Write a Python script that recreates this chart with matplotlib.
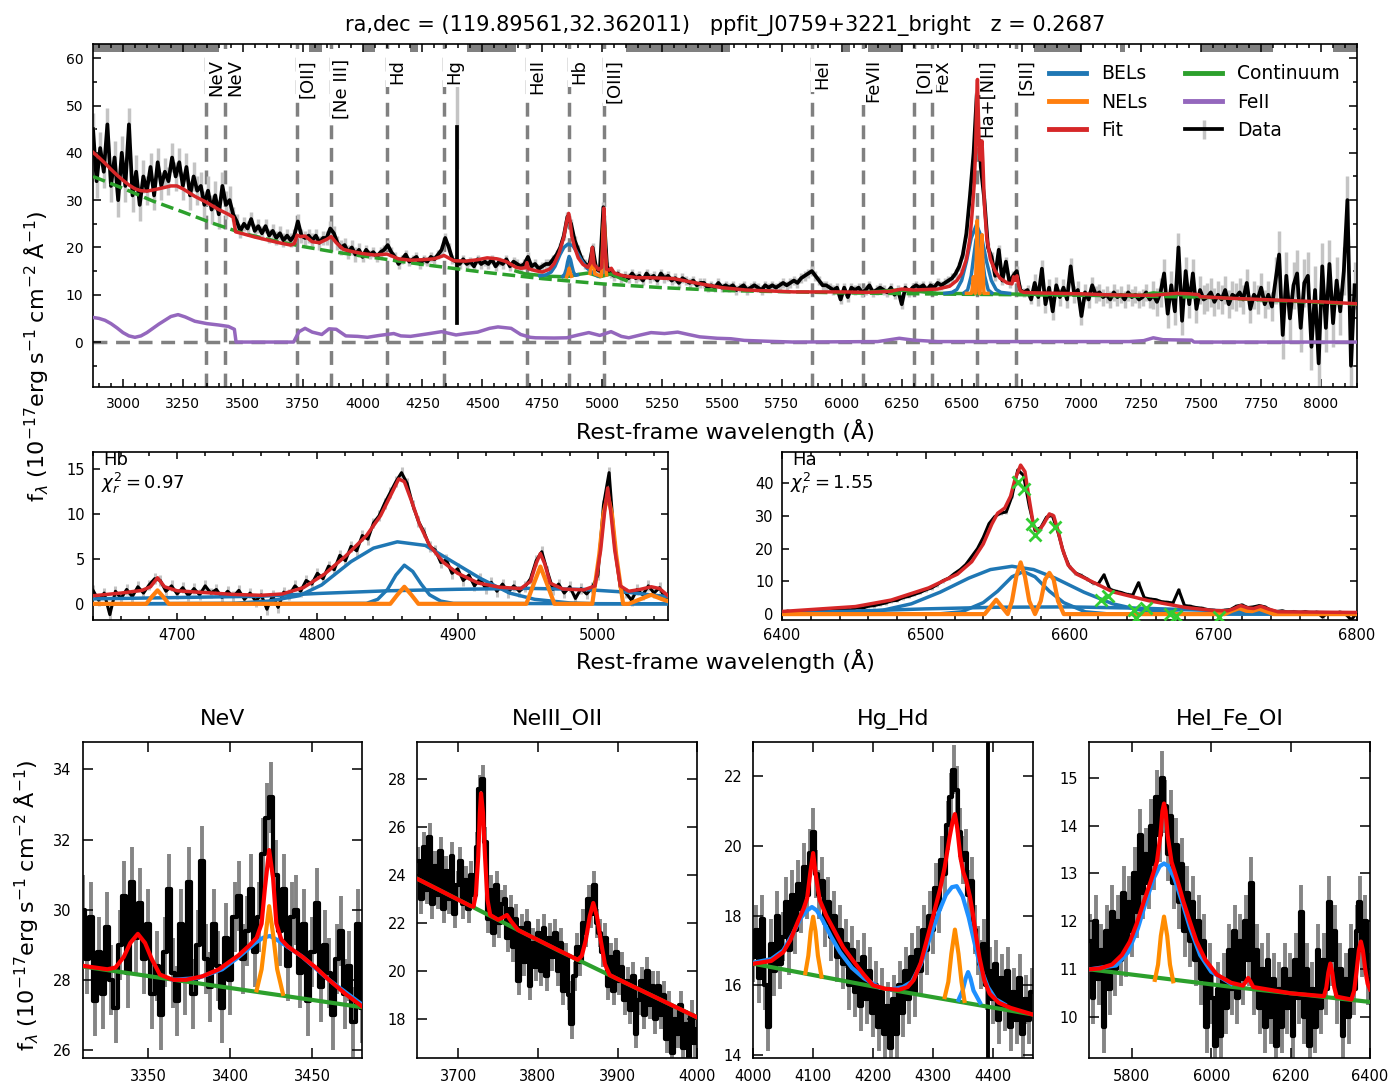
import numpy as np
import matplotlib
matplotlib.use("Agg")
import matplotlib.pyplot as plt
from matplotlib.ticker import MultipleLocator

plt.rcParams['font.family'] = ['DejaVu Sans']
plt.rcParams['mathtext.fontset'] = 'dejavusans'

W, H = 1390, 1086

title = "ra,dec = (119.89561,32.362011)   ppfit_J0759+3221_bright   z = 0.2687"
ylab = r"f$_\lambda$ ($\rm 10^{-17} erg\;s^{-1}\;cm^{-2}\;\AA^{-1}$)"
xlab = "Rest-frame wavelength (Å)"

# emission lines marked on the full spectrum
line_wl = [3346, 3426, 3727, 3869, 4102, 4340, 4686, 4861, 5007, 5876, 6087, 6300, 6375, 6563, 6725]
line_name = ['NeV', 'NeV', '[OII]', '[Ne III]', 'Hd', 'Hg', 'HeII', 'Hb', '[OIII]',
             'HeI', 'FeVII', '[OI]', 'FeX', 'Ha+[NII]', '[SII]']

# continuum fitting windows (grey strip on top)
conti_windows = [(2875, 3400), (3775, 3832), (4000, 4050), (4200, 4230), (4435, 4640),
                 (5100, 5535), (6005, 6035), (6110, 6250), (6800, 7000), (7160, 7180),
                 (7500, 7800), (8050, 8150)]

# ---------------- full spectrum (top) ----------------
top_start, top_step = 2875, 15
top_flux = [
    45, 34, 41, 36, 46, 33, 39, 30, 40, 33,
    46, 31, 36, 29, 35, 32, 37, 31, 38, 33,
    36, 34, 39, 35, 38, 33, 37, 31, 35, 32,
    33, 29, 32, 28, 31, 27, 33, 29, 30, 27,
    25.5, 23.5, 25, 24, 26, 23.5, 24.5, 23, 24.5, 22.5,
    23.5, 22, 23, 21.5, 22.5, 21.5, 22.5, 25.5, 22.5, 22,
    22.5, 21.5, 22.5, 21, 22, 22, 24, 23, 21, 20,
    20.5, 19, 20, 18.5, 19.5, 18, 19.5, 18.5, 19, 18,
    19, 19.5, 20.5, 19, 18, 16.5, 17.5, 18.5, 17, 17.5,
    18, 16.5, 17.5, 17, 18, 17.5, 18.5, 19.5, 22, 20,
    17.5, 17, 16.5, 17.5, 16.5, 17, 16, 17.5, 16.5, 17,
    16.5, 17.5, 16, 17, 16.5, 17.5, 16, 17, 16.5, 16,
    16.5, 18, 16, 16.5, 15.5, 16, 16.5, 16.5, 17.5, 18.5,
    20, 22.5, 26.5, 25, 21.5, 19.5, 17.5, 16.5, 16, 20,
    15.5, 15, 28.5, 16, 14.5, 14, 14.5, 13.5, 14, 13.5,
    14.5, 13.5, 14, 13, 14.5, 13.5, 14, 13, 14.5, 13.5,
    14, 13, 13.5, 12.5, 13.5, 13, 12.5, 13, 12, 12.5,
    12.5, 11.5, 12, 11.5, 12.5, 11.5, 12, 11.5, 12, 11,
    11.5, 12, 11, 11.5, 12, 11.5, 11, 12, 11.5, 12,
    11.5, 12, 12.5, 12, 12.5, 13, 12.5, 13.5, 14, 14.5,
    15, 14, 13, 12, 12, 11.5, 11, 11.5, 9, 11.5,
    9.5, 11.5, 11, 11.5, 10.5, 11, 12, 10.5, 11, 11.5,
    11, 10.5, 11.5, 10, 11, 8, 11.5, 10.5, 11.5, 12,
    11.5, 12, 11, 12, 11.5, 12.5, 12, 12.5, 13, 13.5,
    14.5, 16, 18.5, 23, 31, 40, 54, 37, 30, 20,
    18, 14, 19.5, 13, 17, 12.5, 14, 15, 11, 10.5,
    11, 9, 12.5, 9.5, 15.5, 8, 11.5, 6.5, 12, 9.5,
    11.5, 9, 16, 10, 11, 5.5, 10.5, 9, 12, 10,
    10.5, 9.5, 10, 9, 10.5, 9.5, 10, 9, 10.5, 9.5,
    10, 9, 9.5, 10.5, 9, 10, 8.5, 10.5, 14.5, 6,
    12, 6.5, 20, 4.5, 15, 8, 14.5, 7, 11, 9,
    9.5, 10.5, 8.5, 10, 9, 11, 8, 10, 9.5, 10.5,
    9, 12.5, 7, 10, 9, 11.5, 8, 10, 7.5, 13,
    18.5, 1.5, 14, 5, 12, 14.5, 3, 12.5, 14, -1,
    11, -4.5, 16, 3, 16.5, 4, 13, 6.5, 15, 30,
    -5, 12,
]
top_err_edges = [2875, 3100, 3450, 4000, 5600, 6800, 7300, 7800]
top_err_vals = [3.5, 3.0, 1.5, 1.0, 1.0, 1.8, 3.0, 5.0]
spike_wl = [4392, 4392]
spike_flux = [45.5, 4.0]

fit_top = [(2875, 40.1), (2900, 39.0), (2925, 37.8), (2950, 36.5), (2975, 35.3), (3000, 34.2),
           (3025, 33.2), (3050, 32.4), (3075, 32.0), (3100, 31.9), (3150, 32.4), (3200, 33.0),
           (3225, 33.0), (3250, 32.4), (3300, 30.8), (3350, 29.5), (3400, 28.0), (3440, 27.0),
           (3460, 26.4), (3470, 23.3), (3500, 22.9), (3550, 22.2), (3600, 21.6), (3650, 21.0),
           (3700, 20.5), (3715, 20.8), (3727, 22.6), (3740, 22.3), (3760, 22.4), (3790, 21.2),
           (3820, 21.0), (3850, 21.7), (3869, 22.3), (3890, 21.0), (3920, 19.6), (3950, 19.2),
           (4000, 18.7), (4050, 18.4), (4102, 18.6), (4150, 17.6), (4200, 17.3), (4250, 17.4),
           (4300, 17.6), (4340, 18.3), (4380, 17.2), (4430, 17.1), (4480, 17.4), (4520, 17.8),
           (4560, 17.6), (4600, 17.0), (4620, 16.4), (4640, 15.8), (4660, 15.6), (4680, 15.7),
           (4686, 16.8), (4692, 15.5), (4720, 15.1), (4750, 14.8), (4780, 15.4), (4800, 16.6),
           (4820, 18.8), (4840, 22.2), (4852, 25.6), (4860, 27.2), (4866, 25.6), (4873, 22.4),
           (4885, 20.0), (4900, 17.8), (4920, 16.4), (4940, 15.8), (4952, 16.8), (4959, 20.0),
           (4966, 16.4), (4985, 15.3), (4998, 15.8), (5002, 19.5), (5007, 28.3), (5012, 20.0),
           (5018, 15.4), (5030, 15.2), (5038, 15.6), (5050, 14.6), (5080, 14.1), (5100, 13.9),
           (5150, 13.6), (5200, 13.6), (5300, 13.4), (5400, 12.4), (5500, 11.5), (5600, 11.0),
           (5700, 10.8), (5800, 10.6), (5900, 10.6), (6000, 10.6), (6100, 10.5), (6200, 10.7),
           (6250, 11.2), (6300, 11.0), (6400, 11.2), (6450, 11.8), (6480, 13.0), (6500, 14.5),
           (6520, 17.5), (6535, 22.0), (6545, 28.0), (6552, 33.0), (6558, 40.0), (6563, 52.0),
           (6566, 55.5), (6570, 48.0), (6574, 40.0), (6578, 38.5), (6582, 41.5), (6585, 42.5),
           (6589, 38.0), (6595, 29.0), (6605, 22.0), (6620, 17.5), (6640, 15.0), (6660, 13.5),
           (6690, 12.5), (6710, 12.3), (6717, 13.8), (6722, 13.0), (6731, 14.0), (6738, 12.0),
           (6745, 10.8), (6760, 10.5), (6800, 10.4), (6900, 10.3), (7000, 10.2), (7100, 10.0),
           (7200, 9.9), (7300, 9.9), (7350, 10.1), (7400, 10.3), (7450, 10.2), (7490, 10.0),
           (7495, 9.6), (7600, 9.3), (7800, 8.9), (8000, 8.5), (8150, 8.1)]
pl_conti = [(2875, 35.0), (3000, 32.5), (3125, 29.8), (3250, 27.5), (3375, 25.1), (3500, 23.0),
            (3625, 21.5), (3750, 20.2), (3875, 19.1), (4000, 18.2), (4250, 16.4), (4500, 14.8),
            (4750, 13.4), (5000, 12.3), (5250, 11.5), (5500, 10.9), (6000, 10.4), (6500, 10.1),
            (7000, 9.9), (7500, 9.5), (8150, 8.0)]
feii = [(2875, 5.2), (2900, 5.0), (2925, 4.6), (2950, 3.9), (2975, 3.0), (3000, 2.0), (3025, 1.3),
        (3050, 1.0), (3075, 1.3), (3100, 2.0), (3150, 3.8), (3200, 5.4), (3230, 5.8), (3260, 5.3),
        (3300, 4.4), (3350, 3.9), (3400, 3.6), (3440, 3.3), (3465, 2.7), (3472, 0.0), (3712, 0.0),
        (3735, 2.2), (3760, 2.9), (3790, 2.1), (3830, 1.6), (3860, 2.8), (3890, 2.7), (3930, 1.3),
        (3980, 1.2), (4020, 1.0), (4070, 1.4), (4130, 1.8), (4160, 1.3), (4200, 1.2), (4240, 1.5),
        (4280, 1.8), (4330, 2.2), (4390, 1.5), (4430, 1.8), (4480, 2.1), (4530, 2.9), (4565, 3.2),
        (4620, 2.9), (4660, 1.6), (4700, 1.0), (4722, 0.9), (4800, 0.85), (4852, 0.9), (4900, 1.5),
        (4944, 2.0), (4990, 1.4), (5037, 2.2), (5080, 1.2), (5111, 0.9), (5160, 1.5), (5204, 2.0),
        (5260, 1.8), (5315, 2.1), (5360, 1.6), (5407, 1.1), (5480, 0.8), (5537, 0.7), (5593, 0.35),
        (5700, 0.15), (5800, 0.0), (6150, 0.1), (6240, 0.8), (6300, 0.4), (6400, 0.1), (7200, 0.1),
        (7260, 0.3), (7300, 0.9), (7340, 0.5), (7460, 0.4), (7470, 0.0), (8150, 0.0)]
local_conti_hb = [(4640, 15.0), (4680, 14.4), (4722, 14.2), (4780, 13.9), (4852, 13.8), (4900, 14.3),
                  (4944, 14.6), (4990, 13.8), (5037, 14.4), (5080, 13.4), (5100, 13.0)]
local_conti_ha = [(6100, 10.5), (6240, 11.0), (6300, 10.8), (6400, 10.3), (6600, 10.2), (6800, 10.1),
                  (7000, 10.0), (7260, 9.9), (7300, 10.4), (7340, 10.2), (7460, 9.9), (7490, 9.6)]
bel_top = [
    [(4740, 14.0), (4765, 14.2), (4787, 14.8), (4803, 16.0), (4824, 18.5), (4840, 20.0), (4857, 20.7),
     (4877, 20.4), (4892, 19.2), (4916, 17.1), (4937, 15.6), (4955, 14.9), (4980, 14.0)],
    [(4835, 13.9), (4843, 14.3), (4850, 15.4), (4856, 17.0), (4862, 18.1), (4868, 17.4), (4874, 16.0),
     (4880, 14.8), (4888, 14.1), (4897, 14.2)],
    [(6430, 10.3), (6460, 10.5), (6480, 11.1), (6500, 13.0), (6520, 17.0), (6540, 22.0), (6562, 24.8),
     (6584, 22.0), (6604, 17.0), (6624, 13.0), (6644, 11.1), (6664, 10.5), (6700, 10.3)],
    [(6510, 10.4), (6525, 11.0), (6540, 14.0), (6550, 17.9), (6560, 21.6), (6568, 22.8), (6576, 21.6),
     (6586, 17.9), (6596, 14.0), (6611, 11.0), (6626, 10.4)],
]
nel_top = [
    [(4852, 13.8), (4857, 14.6), (4862, 15.6), (4867, 14.6), (4872, 13.9)],
    [(4949, 14.5), (4954, 16.5), (4959, 18.6), (4964, 16.5), (4969, 14.4), (4996, 13.9), (5001, 19.4),
     (5004, 24.0), (5007, 26.0), (5010, 24.0), (5013, 19.4), (5018, 14.2)],
    [(6520, 10.3), (6541, 10.3), (6545, 11.6), (6549, 13.8), (6553, 11.6), (6557, 10.3), (6561, 17.6),
     (6565, 25.7), (6569, 17.6), (6573, 10.3), (6577, 10.3), (6581, 16.0), (6585, 22.7), (6589, 16.0),
     (6593, 10.3), (6610, 10.3)],
]

# ---------------- Hb complex ----------------
hb_start, hb_step = 4640, 4
hb_flux = [1.5, 0.4, 1.2, -1.2, 1.4, 0.6, 1.6, 0.8, 1.9, 1.2,
           2.1, 2.8, 2.6, 1.4, 2.0, 1.1, 1.8, 0.9, 1.7, 1.0,
           2.0, 1.2, 1.6, 0.7, 1.4, 0.8, 1.5, 0.5, 1.2, 0.3,
           1.0, -0.6, 0.9, -0.4, 1.3, 1.0, 2.0, 1.4, 2.6, 2.2,
           3.4, 2.8, 4.2, 3.8, 5.4, 4.8, 6.4, 5.9, 7.6, 7.2,
           9.0, 9.8, 11.2, 12.4, 13.6, 14.6, 13.4, 11.0, 9.2, 8.0,
           6.4, 6.0, 4.6, 4.9, 3.4, 3.9, 2.6, 3.2, 2.0, 2.8,
           1.7, 2.4, 1.4, 2.2, 1.3, 2.0, 1.4, 1.9, 2.8, 4.8,
           5.8, 3.6, 1.6, 2.2, 1.2, 1.9, 0.6, 1.7, 1.1, 1.8,
           3.2, 11.0, 14.6, 6.4, 1.8, 1.2, 0.4, 1.6, 1.0, 2.0,
           1.2, 1.8, 0.6]
hb_err = 0.6
hb_fit = [(4640, 0.9), (4660, 1.2), (4675, 1.5), (4681, 1.9), (4686, 2.9), (4691, 1.9), (4700, 1.45),
          (4720, 1.25), (4740, 1.05), (4760, 0.95), (4775, 1.1), (4790, 1.8), (4805, 3.3), (4820, 5.3),
          (4835, 7.6), (4845, 9.8), (4852, 12.0), (4858, 13.9), (4862, 13.6), (4867, 11.5), (4873, 8.8),
          (4880, 6.5), (4890, 4.6), (4900, 3.4), (4915, 2.3), (4930, 1.85), (4945, 1.7), (4952, 2.5),
          (4956, 4.5), (4959, 5.6), (4962, 4.5), (4966, 2.3), (4975, 1.65), (4990, 1.55), (4998, 2.0),
          (5002, 6.0), (5005, 10.5), (5007, 12.9), (5009, 10.5), (5012, 6.0), (5016, 2.0), (5022, 1.4),
          (5030, 1.6), (5038, 1.9), (5044, 1.7), (5050, 0.9)]
hb_bel = [
    [(4640, 0.0), (4740, 0.05), (4765, 0.3), (4787, 0.9), (4803, 2.1), (4824, 4.7), (4840, 6.2),
     (4857, 6.9), (4877, 6.5), (4892, 5.1), (4916, 2.85), (4937, 1.2), (4955, 0.5), (4980, 0.1),
     (5000, 0.0), (5050, 0.0)],
    [(4640, 0.0), (4835, 0.05), (4843, 0.5), (4850, 1.6), (4856, 3.2), (4862, 4.3), (4868, 3.6),
     (4874, 2.2), (4880, 1.0), (4888, 0.3), (4897, 0.05), (5050, 0.0)],
    [(4640, 0.55), (4700, 0.7), (4760, 0.85), (4800, 1.15), (4850, 1.45), (4900, 1.62), (4950, 1.72),
     (4990, 1.6), (5020, 1.3), (5050, 0.8)],
]
hb_nel = [(4640, 0.0), (4678, 0.0), (4682, 0.8), (4686, 1.5), (4690, 0.8), (4694, 0.0), (4852, 0.0),
          (4857, 1.0), (4862, 1.9), (4867, 1.0), (4872, 0.0), (4949, 0.0), (4954, 2.1), (4959, 4.15),
          (4964, 2.1), (4969, 0.0), (4996, 0.0), (5001, 5.5), (5004, 10.0), (5007, 12.1), (5010, 10.0),
          (5013, 5.5), (5018, 0.0), (5022, 0.0), (5030, 0.5), (5038, 1.0), (5046, 0.5), (5050, 0.3)]

# ---------------- Ha complex ----------------
ha_start, ha_step = 6400, 4
ha_flux = [0.6, 0.9, 0.4, 1.0, 0.6, 1.1, 0.7, 1.2, 0.9, 1.3,
           1.1, 1.5, 1.3, 1.9, 1.8, 2.4, 2.6, 3.0, 3.4, 4.0,
           4.2, 5.0, 5.4, 6.0, 6.6, 7.4, 8.0, 9.0, 10.2, 11.0,
           12.4, 13.6, 15.2, 17.6, 20.0, 23.4, 27.6, 29.8, 30.8, 31.2,
           36.0, 44.0, 42.4, 33.0, 25.6, 26.4, 29.6, 30.2, 25.0, 18.6,
           14.4, 12.6, 11.8, 10.8, 9.6, 9.2, 12.0, 7.6, 7.0, 6.6,
           6.0, 5.8, 9.6, 5.0, 4.6, 4.4, 3.8, 3.6, 3.4, 7.4,
           2.6, 2.4, 2.0, 1.8, 1.4, 1.2, 1.0, 1.2, 1.4, 2.4,
           2.8, 2.0, 2.2, 2.6, 2.2, 1.2, 0.8, 1.0, 0.6, 0.8,
           0.4, 0.8, 0.3, 0.6, -0.9, 0.5, 0.2, 0.6, 0.1, -1.8,
           0.5]
ha_err = 0.6
ha_fit = [(6400, 0.8), (6451, 2.3), (6476, 4.3), (6502, 8.0), (6522, 12.2), (6532, 16.0), (6540, 21.4),
          (6546, 27.5), (6550, 30.8), (6555, 32.4), (6559, 36.0), (6562, 41.0), (6566, 45.5), (6569, 43.5),
          (6572, 35.0), (6575, 27.0), (6578, 25.0), (6582, 27.5), (6586, 30.6), (6589, 30.0), (6592, 25.5),
          (6595, 20.0), (6599, 15.0), (6605, 12.2), (6612, 10.7), (6630, 6.8), (6655, 4.1), (6681, 2.0),
          (6700, 1.1), (6710, 1.0), (6714, 1.6), (6719, 2.6), (6724, 1.9), (6728, 1.7), (6733, 2.4),
          (6738, 1.6), (6745, 0.7), (6800, 0.5)]
ha_bel = [
    [(6400, 0.0), (6440, 0.16), (6470, 1.17), (6490, 3.15), (6510, 6.7), (6530, 11.0), (6545, 13.6),
     (6560, 14.6), (6575, 13.6), (6590, 11.0), (6610, 6.7), (6630, 3.15), (6650, 1.17), (6680, 0.16),
     (6720, 0.0), (6800, 0.0)],
    [(6400, 0.0), (6510, 0.1), (6525, 0.7), (6540, 3.5), (6550, 7.0), (6560, 11.4), (6568, 13.0),
     (6576, 11.4), (6586, 7.0), (6596, 3.5), (6611, 0.7), (6626, 0.1), (6800, 0.0)],
    [(6400, 0.3), (6450, 0.9), (6500, 1.6), (6550, 2.1), (6600, 2.2), (6650, 1.8), (6700, 1.1),
     (6750, 0.6), (6800, 0.3)],
]
ha_nel = [(6400, 0.0), (6541, 0.0), (6545, 2.2), (6549, 4.4), (6553, 2.2), (6557, 0.0), (6560, 4.0),
          (6563, 11.5), (6566, 15.8), (6569, 11.5), (6572, 4.0), (6576, 0.0), (6580, 4.0), (6583, 10.5),
          (6586, 12.6), (6589, 10.5), (6592, 4.0), (6596, 0.0), (6708, 0.0), (6713, 1.0), (6718, 1.8),
          (6723, 1.0), (6727, 0.9), (6732, 1.6), (6737, 0.8), (6742, 0.0), (6800, 0.0)]
ha_masked = [(6564, 40.3), (6568, 38.3), (6574, 27.6), (6576, 24.2), (6590, 26.5), (6622, 4.4),
             (6627, 5.4), (6645, 1.3), (6646, -1.3), (6653, 2.0), (6670, 0.0), (6674, -0.5), (6704, -1.0)]

# ---------------- small windows (bottom row) ----------------
nev_start, nev_step = 3310, 2.5
nev_flux = [30.0, 28.6, 29.8, 27.4, 28.8, 27.6, 29.5, 28.0, 27.2, 29.0,
            30.4, 28.2, 30.8, 29.2, 30.2, 28.6, 29.6, 27.6, 28.4, 27.0,
            28.8, 30.6, 28.2, 27.4, 29.6, 28.0, 30.8, 27.6, 29.0, 31.4,
            28.6, 27.8, 29.6, 28.4, 27.2, 29.2, 28.0, 29.8, 30.4, 28.6,
            29.4, 30.6, 28.8, 29.8, 31.6, 32.6, 33.2, 31.0, 29.4, 30.6,
            28.4, 29.8, 30.0, 28.2, 29.6, 27.4, 28.8, 30.2, 27.8, 29.0,
            28.2, 27.0, 28.6, 29.4, 27.6, 28.4, 26.8, 29.6, 27.2]
nev_err = 1.0
nev_conti = [(3310, 28.38), (3480, 27.22)]
nev_fit = [(3310, 28.4), (3325, 28.3), (3330, 28.35), (3335, 28.65), (3339, 29.05), (3343.6, 29.31),
           (3348, 29.05), (3352, 28.6), (3357, 28.15), (3365, 28.0), (3373, 28.0), (3383, 28.1),
           (3393, 28.3), (3405, 28.7), (3412, 29.0), (3416, 29.2), (3419, 29.6), (3421, 30.6),
           (3423.6, 31.7), (3426, 30.9), (3428, 29.6), (3431, 29.15), (3435, 28.95), (3444, 28.65),
           (3452, 28.35), (3460, 28.0), (3470, 27.6), (3480, 27.25)]
nev_bel = [(3365, 28.0), (3380, 28.05), (3395, 28.3), (3405, 28.65), (3415, 29.05), (3420, 29.2),
           (3424, 29.25), (3428, 29.15), (3433, 29.0), (3444, 28.65), (3460, 28.0), (3480, 27.3)]
nev_nel = [(3416, 27.7), (3419, 28.3), (3421.5, 29.3), (3423.6, 30.1), (3426, 29.3), (3428.5, 28.3),
           (3432, 27.6)]

ne3_start, ne3_step = 3650, 3.5
ne3_flux = [24.6, 23.0, 25.2, 23.4, 25.6, 22.8, 24.4, 23.2, 25.0, 22.6,
            24.2, 23.0, 24.8, 22.4, 23.6, 24.6, 22.8, 23.8, 22.6, 24.0,
            23.2, 25.2, 27.6, 28.0, 25.4, 22.2, 23.4, 21.6, 23.6, 22.0,
            22.8, 23.0, 21.4, 22.6, 21.0, 22.2, 19.6, 21.8, 20.4, 22.0,
            19.4, 21.2, 20.2, 21.6, 20.0, 21.8, 19.8, 21.4, 20.6, 21.6,
            20.0, 21.2, 19.2, 20.6, 19.0, 17.8, 19.8, 21.0, 20.4, 22.0,
            21.6, 23.0, 22.4, 23.6, 22.0, 21.6, 20.8, 21.4, 19.4, 20.6,
            19.2, 20.8, 19.6, 20.2, 18.8, 19.6, 18.4, 19.8, 17.4, 18.8,
            19.6, 18.2, 20.0, 18.6, 19.4, 18.0, 19.4, 18.2, 19.0, 17.2,
            18.6, 16.6, 18.0, 17.4, 18.6, 16.8, 17.8, 16.4, 18.2, 17.0,
            17.6]
ne3_err = 0.6
ne3_conti = [(3650, 23.83), (3825, 20.88), (4000, 18.08)]
ne3_fit = [(3650, 23.83), (3715, 22.73), (3719, 22.70), (3722, 23.2), (3725, 24.8), (3727, 26.6),
           (3728.5, 27.42), (3731, 26.6), (3733.5, 24.8), (3736.5, 23.0), (3740, 22.35), (3750, 22.15),
           (3756, 22.25), (3761, 22.35), (3766, 22.1), (3775, 21.72), (3850, 20.48), (3855, 20.65),
           (3860, 21.3), (3865, 22.3), (3869.4, 22.85), (3874, 22.3), (3879, 21.25), (3884, 20.3),
           (3890, 19.85), (3900, 19.68), (4000, 18.08)]

hghd_start, hghd_step = 4000, 5
hghd_flux = [16.8, 17.6, 16.2, 17.9, 16.0, 14.8, 17.2, 16.4, 18.0, 16.6,
             17.4, 18.4, 17.0, 18.6, 17.6, 18.9, 18.2, 19.4, 18.6, 19.8,
             20.4, 19.2, 18.6, 19.0, 17.8, 18.4, 17.4, 18.0, 16.8, 17.6,
             16.6, 17.2, 16.0, 17.0, 15.8, 16.6, 15.4, 16.8, 15.6, 16.4,
             15.2, 16.0, 14.8, 15.8, 14.6, 15.4, 14.2, 15.6, 14.6, 16.0,
             15.2, 16.4, 15.6, 16.8, 15.8, 17.0, 16.4, 17.6, 17.0, 18.0,
             17.6, 18.8, 18.2, 19.6, 19.2, 20.6, 21.4, 22.2, 21.6, 20.4,
             19.6, 19.8, 18.6, 19.0, 17.6, 17.0, 16.6, 17.2, 16.0, 16.4,
             15.6, 16.6, 15.0, 16.2, 15.4, 16.4, 14.8, 15.8, 15.0, 16.2,
             14.6, 15.6, 15.0, 15.8]
hghd_err = 0.7
hghd_conti = [(4000, 16.62), (4233, 15.86), (4467, 15.16)]
hghd_fit = [(4000, 16.62), (4030, 16.7), (4050, 16.95), (4062, 17.3), (4075, 17.85), (4084, 18.2),
            (4090, 18.5), (4095, 19.2), (4100, 19.8), (4105, 19.1), (4111, 18.45), (4122, 18.0),
            (4133, 17.65), (4150, 17.1), (4167, 16.7), (4185, 16.3), (4200, 16.0), (4220, 15.9),
            (4243, 15.87), (4258, 15.95), (4268, 16.15), (4280, 16.65), (4290, 17.3), (4300, 17.95),
            (4312, 18.75), (4320, 19.4), (4328, 20.25), (4333, 20.7), (4337, 20.92), (4341, 20.5),
            (4346, 19.7), (4351, 19.25), (4356, 19.0), (4362, 18.55), (4367, 18.05), (4372, 17.45),
            (4378, 16.8), (4386, 16.15), (4395, 15.76), (4410, 15.5), (4430, 15.35), (4467, 15.16)]
hghd_bel = [
    [(4000, 16.65), (4030, 16.75), (4050, 17.0), (4065, 17.45), (4080, 17.95), (4090, 18.15),
     (4098, 18.25), (4106, 18.15), (4115, 17.9), (4130, 17.4), (4145, 16.95), (4165, 16.5),
     (4185, 16.2), (4210, 15.95)],
    [(4230, 15.88), (4250, 15.95), (4265, 16.1), (4280, 16.6), (4295, 17.35), (4310, 18.1),
     (4322, 18.6), (4332, 18.82), (4340, 18.85), (4350, 18.55), (4360, 17.95), (4370, 17.2),
     (4380, 16.5), (4392, 15.95), (4405, 15.6), (4420, 15.45)],
    [(4343, 15.58), (4350, 15.85), (4355, 16.2), (4359, 16.38), (4363, 16.2), (4368, 15.85),
     (4379, 15.5)],
]
hghd_nel = [
    [(4087, 16.35), (4092, 16.85), (4096, 17.55), (4100, 17.97), (4104, 17.55), (4108, 16.85),
     (4114, 16.25)],
    [(4320, 15.66), (4326, 16.1), (4331, 16.9), (4337, 17.6), (4343, 16.9), (4348, 16.1),
     (4353, 15.55)],
]

hei_start, hei_step = 5695, 7
hei_flux = [11.6, 10.4, 12.0, 10.8, 11.4, 9.8, 11.8, 10.6, 12.2, 11.0,
            12.0, 11.2, 12.6, 11.4, 12.4, 11.8, 13.0, 12.2, 13.8, 12.6,
            13.4, 12.8, 14.0, 13.2, 14.6, 13.8, 15.0, 14.4, 13.4, 14.2,
            12.8, 13.6, 12.4, 13.2, 11.8, 12.6, 11.6, 12.4, 11.2, 12.0,
            10.8, 11.6, 9.8, 11.0, 10.4, 9.4, 10.6, 9.6, 10.8, 10.2,
            11.4, 10.6, 11.8, 10.4, 11.6, 10.8, 12.0, 11.2, 12.8, 10.6,
            11.4, 10.2, 11.0, 9.8, 11.2, 10.0, 10.8, 9.4, 10.6, 9.8,
            11.0, 10.2, 10.8, 9.6, 11.2, 10.4, 12.2, 10.0, 11.0, 9.4,
            10.6, 9.8, 11.4, 10.2, 11.2, 10.6, 12.4, 11.2, 11.8, 10.4,
            11.0, 9.6, 10.8, 10.0, 11.4, 10.6, 11.8, 12.4, 11.4, 12.0,
            10.8]
hei_err = 0.55
hei_conti = [(5693, 11.0), (6046, 10.64), (6400, 10.32)]
hei_fit = [(5693, 11.0), (5720, 11.02), (5750, 11.1), (5775, 11.3), (5795, 11.58), (5812, 11.95),
           (5830, 12.41), (5848, 12.85), (5863, 13.24), (5872, 13.8), (5877, 14.3), (5881, 14.46),
           (5885, 14.3), (5890, 13.8), (5900, 13.24), (5915, 12.85), (5930, 12.41), (5948, 11.95),
           (5963, 11.58), (5985, 11.2), (6014, 10.89), (6050, 10.72), (6080, 10.66), (6087, 10.74),
           (6093, 10.82), (6099, 10.74), (6106, 10.63), (6200, 10.5), (6284, 10.44), (6290, 10.62),
           (6295, 10.93), (6300, 11.12), (6305, 10.93), (6310, 10.62), (6316, 10.43), (6353, 10.37),
           (6360, 10.55), (6366, 10.95), (6372, 11.4), (6377, 11.58), (6382, 11.4), (6388, 11.0),
           (6394, 10.7), (6400, 10.58)]
hei_bel = [(5693, 11.0), (5760, 11.08), (5790, 11.35), (5815, 11.85), (5835, 12.4), (5855, 12.9),
           (5870, 13.15), (5881, 13.21), (5892, 13.15), (5907, 12.9), (5927, 12.4), (5947, 11.85),
           (5972, 11.3), (6000, 10.95), (6050, 10.7)]
hei_nel = [(5858, 10.78), (5866, 11.1), (5873, 11.7), (5881, 12.1), (5889, 11.7), (5896, 11.1),
           (5904, 10.75)]


def xy(pairs):
    a = np.array(pairs, dtype=float)
    return a[:, 0], a[:, 1]


def grid(start, step, vals):
    return start + step * np.arange(len(vals))


def add_ax(l, t, r, b):
    return fig.add_axes([l / W, 1 - b / H, (r - l) / W, (b - t) / H])


def style(ax, xmaj, ymaj, xmin=None, ymin=None, lmaj=6, lmin=3, fs=10, pad=6.5):
    ax.xaxis.set_major_locator(MultipleLocator(xmaj))
    ax.yaxis.set_major_locator(MultipleLocator(ymaj))
    if xmin:
        ax.xaxis.set_minor_locator(MultipleLocator(xmin))
    if ymin:
        ax.yaxis.set_minor_locator(MultipleLocator(ymin))
    ax.tick_params(which='both', direction='in', top=True, right=True, width=1.1)
    ax.tick_params(which='major', length=lmaj, labelsize=fs, pad=pad)
    ax.tick_params(which='minor', length=lmin)
    for s in ax.spines.values():
        s.set_linewidth(1.2)


fig = plt.figure(figsize=(W / 100, H / 100), dpi=100)

# ================= top: full spectrum =================
ax = add_ax(93, 44, 1357, 387)
wl = grid(top_start, top_step, top_flux)
err = np.array(top_err_vals)[np.searchsorted(top_err_edges, wl, side='right') - 1]
for lo, hi in conti_windows:
    ax.axvspan(lo, hi, ymin=0.977, ymax=1.0, color='#808080', lw=0, zorder=1)
for lw_, name in zip(line_wl, line_name):
    ax.axvline(lw_, color='#808080', ls=(0, (4, 2.5)), lw=2.5, zorder=1)
for lw_, name in zip(line_wl[::-1], line_name[::-1]):
    ax.text(lw_ + 6, 59.8, name, rotation=90, ha='left', va='top', fontsize=13, zorder=6,
            bbox=dict(facecolor='white', edgecolor='none', pad=2.0))
ax.axhline(0, color='#808080', ls=(0, (4, 2.5)), lw=2.5, zorder=1)
data_h = ax.errorbar(wl, top_flux, yerr=err, color='k', ecolor='#c4c4c4', lw=2.7, elinewidth=2.5,
                     zorder=2, label='Data')
ax.errorbar(spike_wl[:1], spike_flux[:1], yerr=9, fmt='none', ecolor='#c4c4c4', elinewidth=2.5, zorder=2)
ax.plot(spike_wl, spike_flux, color='k', lw=2.7, zorder=2.5)
x, y = xy(pl_conti)
ax.plot(x, y, color='tab:green', ls='--', lw=2.5, zorder=3)
x, y = xy(feii)
ax.plot(x, y, color='tab:purple', lw=2.5, zorder=3)
for seg in (local_conti_hb, local_conti_ha):
    x, y = xy(seg)
    ax.plot(x, y, color='tab:green', lw=2.5, zorder=3)
for seg in bel_top:
    x, y = xy(seg)
    ax.plot(x, y, color='tab:blue', lw=2.5, zorder=3.2)
for seg in nel_top:
    x, y = xy(seg)
    ax.plot(x, y, color='tab:orange', lw=2.5, zorder=3.3)
x, y = xy(fit_top)
ax.plot(x, y, color='tab:red', lw=2.5, zorder=7)
ax.set_xlim(2875, 8150)
ax.set_ylim(-9.5, 63)
style(ax, 250, 10, xmin=50, ymin=5, lmaj=6, lmin=3, fs=10, pad=7)
ax.set_xlabel(xlab, fontsize=16, labelpad=6)
ax.set_title(title, fontsize=15, pad=9)

hb_, = ax.plot([], [], color='tab:blue', lw=3.5)
hn_, = ax.plot([], [], color='tab:orange', lw=3.5)
hf_, = ax.plot([], [], color='tab:red', lw=3.5)
hc_, = ax.plot([], [], color='tab:green', lw=3.5)
hfe_, = ax.plot([], [], color='tab:purple', lw=3.5)
ax.legend([hb_, hn_, hf_, hc_, hfe_, data_h], ['BELs', 'NELs', 'Fit', 'Continuum', 'FeII', 'Data'],
          ncol=2, loc='upper right', bbox_to_anchor=(1.0, 0.99), frameon=False, fontsize=13.5)

fig.text(37 / W, 1 - 356 / H, ylab, rotation=90, ha='center', va='center', fontsize=16)


# ================= middle: line complexes =================
def complex_panel(box, start, step, flux, errv, fit, bels, nel, xl, yl, xmaj, ymaj, name, chi):
    a = add_ax(*box)
    w = grid(start, step, flux)
    a.errorbar(w, flux, yerr=errv, color='k', ecolor='#c4c4c4', lw=2.2, elinewidth=2.2, zorder=2)
    for seg in bels:
        x, y = xy(seg)
        a.plot(x, y, color='tab:blue', lw=2.5, zorder=3)
    x, y = xy(nel)
    a.plot(x, y, color='tab:orange', lw=3, zorder=3.5)
    x, y = xy(fit)
    a.plot(x, y, color='tab:red', lw=2.5, zorder=4)
    a.set_xlim(*xl)
    a.set_ylim(*yl)
    style(a, xmaj, ymaj, xmin=20, lmaj=5, lmin=3, fs=10.5, pad=6)
    a.text(0.018, 0.95, name, transform=a.transAxes, fontsize=13, va='center')
    a.text(0.014, 0.81, r'$\chi ^2_r = $' + chi, transform=a.transAxes, fontsize=13, va='center')
    return a


complex_panel((93, 452, 668, 620), hb_start, hb_step, hb_flux, hb_err, hb_fit, hb_bel, hb_nel,
              (4640, 5050), (-1.8, 16.9), 100, 5, 'Hb', '0.97')
axa = complex_panel((782, 452, 1357, 620), ha_start, ha_step, ha_flux, ha_err, ha_fit, ha_bel, ha_nel,
                    (6400, 6800), (-1.8, 49.5), 100, 10, 'Ha', '1.55')
x, y = xy(ha_masked)
axa.plot(x, y, 'x', color='limegreen', ms=8, mew=2, zorder=5)
fig.text(725 / W, 1 - 661 / H, xlab, ha='center', va='center', fontsize=16)


# ================= bottom: small windows =================
def small_panel(box, start, step, flux, errv, conti, fit, bels, nels, xl, yl, xmaj, ymaj, name):
    a = add_ax(*box)
    w = grid(start, step, flux)
    a.errorbar(w, flux, yerr=errv, fmt='none', ecolor='#858585', elinewidth=2.8, zorder=1)
    a.step(w, flux, where='mid', color='k', lw=3, zorder=2)
    x, y = xy(conti)
    a.plot(x, y, color='#2ca02c', lw=3, zorder=3)
    for seg in bels:
        x, y = xy(seg)
        a.plot(x, y, color='#1e90ff', lw=3, zorder=3.2)
    for seg in nels:
        x, y = xy(seg)
        a.plot(x, y, color='darkorange', lw=3, zorder=3.4)
    x, y = xy(fit)
    a.plot(x, y, color='red', lw=3, zorder=3.3)
    a.set_xlim(*xl)
    a.set_ylim(*yl)
    style(a, xmaj, ymaj, lmaj=7, fs=10.5, pad=8)
    a.set_title(name, fontsize=16, pad=12)
    return a


small_panel((82.7, 741.7, 361.7, 1058), nev_start, nev_step, nev_flux, nev_err, nev_conti, nev_fit,
            [nev_bel], [nev_nel], (3310, 3480), (25.77, 34.79), 50, 2, 'NeV')
small_panel((417.3, 741.7, 697.3, 1058), ne3_start, ne3_step, ne3_flux, ne3_err, ne3_conti, ne3_fit,
            [], [], (3648.5, 4000), (16.39, 29.57), 100, 2, 'NeIII_OII')
ax3 = small_panel((753.3, 741.7, 1032.7, 1058), hghd_start, hghd_step, hghd_flux, hghd_err, hghd_conti,
                  hghd_fit, hghd_bel, hghd_nel, (4000, 4467), (13.91, 23.0), 100, 2, 'Hg_Hd')
ax3.plot(spike_wl, spike_flux, color='k', lw=2.8, zorder=2)
small_panel((1089.4, 741.7, 1370, 1058), hei_start, hei_step, hei_flux, hei_err, hei_conti, hei_fit,
            [hei_bel], [hei_nel], (5693, 6400), (9.15, 15.75), 200, 1, 'HeI_Fe_OI')
fig.text(27 / W, 1 - 905 / H, ylab, rotation=90, ha='center', va='center', fontsize=16)

fig.savefig('out.png', dpi=100)
